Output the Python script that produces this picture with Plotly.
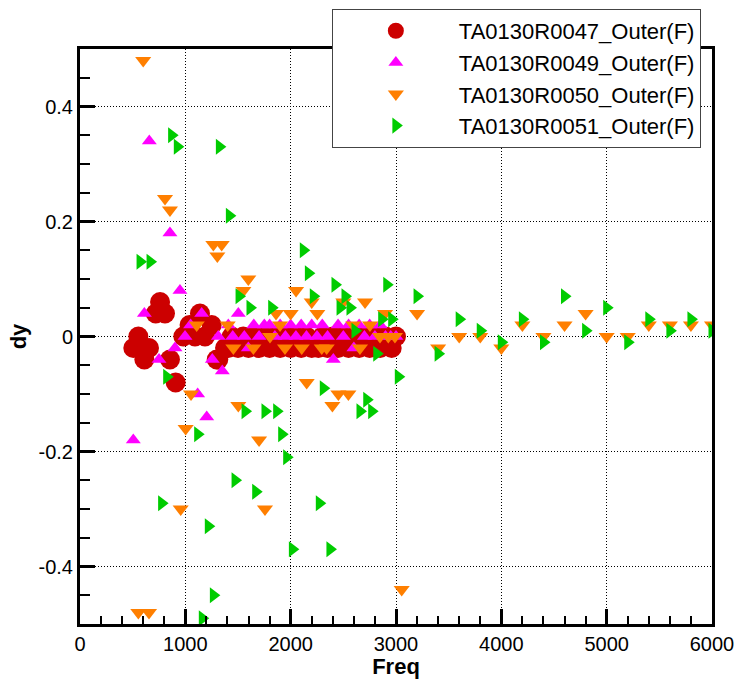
import plotly.graph_objects as go

# ---- data ----
names = ["TA0130R0047_Outer(F)", "TA0130R0049_Outer(F)",
         "TA0130R0050_Outer(F)", "TA0130R0051_Outer(F)"]

r47_f = [506, 554, 611, 655, 719, 760, 807, 854, 908, 981, 1040, 1092, 1139, 1187,
         1250, 1298, 1313, 1377, 1408, 1440, 1500, 1550, 1600, 1650, 1700, 1750,
         1800, 1850, 1900, 1950, 2000, 2050, 2100, 2150, 2200, 2263, 2300, 2350,
         2400, 2450, 2500, 2550, 2600, 2650, 2700, 2750, 2800, 2850, 2900, 2959, 3000]
r47_dy = [-0.02, 0.0, -0.04, -0.02, 0.04, 0.06, 0.04, -0.04, -0.08, 0.0, 0.02, 0.0, 0.04, 0.0,
          0.02, -0.04, -0.04, -0.02, -0.02, 0.0, -0.02, 0.0, -0.02, 0.0, -0.02, 0.0,
          -0.02, 0.0, -0.02, 0.0, -0.02, 0.0, -0.02, 0.0, -0.02, -0.02, 0.0, -0.02,
          0.0, -0.02, 0.0, -0.02, 0.0, -0.02, 0.0, -0.02, 0.0, -0.02, 0.0, -0.02, 0.0]

r49_f = [506, 611, 658, 750, 854, 902, 949, 997, 1050, 1117, 1155, 1203, 1256, 1313,
         1351, 1408, 1450, 1503, 1560, 1598, 1650, 1700, 1750, 1800, 1850, 1900, 1950,
         2000, 2050, 2100, 2150, 2200, 2250, 2300, 2350, 2405, 2450, 2500, 2550, 2600,
         2650, 2700, 2750, 2800, 2850, 2900, 2950, 3000]
r49_dy = [-0.18, 0.04, 0.34, -0.04, 0.18, -0.02, 0.08, 0.0, 0.02, -0.1, 0.04, -0.14, -0.04, 0.0,
          -0.06, 0.02, 0.0, 0.04, 0.0, -0.02, 0.02, 0.0, 0.02, 0.02, 0.0, 0.02, 0.0,
          0.02, 0.0, 0.02, 0.0, 0.02, 0.0, 0.02, 0.0, -0.04, 0.02, 0.0, 0.02, -0.02,
          0.02, 0.0, 0.02, 0.0, 0.02, 0.0, 0.0, 0.0]

r50_f = [554, 600, 655, 807, 854, 956, 1003, 1054, 1108, 1266, 1304, 1345, 1402, 1456,
         1503, 1551, 1598, 1646, 1700, 1756, 1804, 1861, 1899, 1946, 2000, 2051, 2105,
         2152, 2200, 2253, 2295, 2342, 2396, 2453, 2500, 2548, 2595, 2658, 2706, 2753,
         2848, 2896, 2927, 2990, 3054, 3200, 3400, 3600, 3800, 4000, 4200, 4400, 4600,
         4800, 5000, 5200, 5400, 5600, 5800, 6000]
r50_dy = [-0.48, 0.48, -0.48, 0.24, 0.22, -0.3, -0.16, -0.1, 0.02, 0.16, 0.14, 0.16, 0.02, -0.02,
          -0.12, 0.08, 0.1, -0.02, -0.18, -0.3, 0.0, 0.04, 0.02, -0.02, 0.04, 0.08, -0.02,
          -0.08, 0.06, 0.04, -0.02, -0.02, -0.12, -0.1, 0.06, -0.1, 0.02, -0.02, 0.06, 0.02,
          0.0, 0.04, 0.0, 0.0, -0.44, 0.04, -0.02, 0.0, 0.0, -0.02, 0.02, 0.0, 0.02,
          0.04, 0.0, 0.0, 0.02, 0.02, 0.02, 0.02]

r51_f = [570, 665, 775, 823, 870, 924, 1117, 1161, 1218, 1266, 1323, 1418, 1472, 1510,
         1567, 1614, 1668, 1756, 1820, 1867, 1915, 1962, 2016, 2120, 2168, 2215, 2272,
         2310, 2373, 2421, 2469, 2516, 2563, 2611, 2658, 2722, 2769, 2817, 2864, 2912,
         2959, 3022, 3200, 3400, 3600, 3800, 4000, 4200, 4400, 4600, 4800, 5000, 5200,
         5400, 5600, 5800, 6000]
r51_dy = [0.13, 0.13, -0.29, -0.07, 0.35, 0.33, -0.17, -0.49, -0.33, -0.45, 0.33, 0.21, -0.25, 0.07,
          -0.13, 0.05, -0.27, -0.13, 0.05, -0.13, -0.17, -0.21, -0.37, 0.15, 0.11, 0.07, -0.29,
          -0.09, -0.37, 0.09, 0.05, 0.07, 0.05, 0.01, -0.13, -0.11, -0.13, -0.03, 0.03, 0.09,
          0.03, -0.07, 0.07, -0.03, 0.03, 0.01, -0.01, 0.03, -0.01, 0.07, 0.01, 0.05, -0.01,
          0.03, 0.01, 0.03, 0.01]

x_ticks = [0, 1000, 2000, 3000, 4000, 5000, 6000]
y_ticks = [-0.4, -0.2, 0, 0.2, 0.4]
y_tick_text = ["-0.4", "-0.2", "0", "0.2", "0.4"]

FONT = "Liberation Sans, Arial, sans-serif"

fig = go.Figure()
series = [
    (r47_f, r47_dy, "circle", "#CC0000", 20),
    (r49_f, r49_dy, "triangle-up", "#FF00FF", 13),
    (r50_f, r50_dy, "triangle-down", "#FF7F00", 14),
    (r51_f, r51_dy, "triangle-right", "#00CC00", 14),
]
for (xs, ys, sym, col, sz), nm in zip(series, names):
    fig.add_trace(go.Scatter(
        x=xs, y=ys, mode="markers", name=nm,
        marker=dict(symbol=sym, color=col, size=sz, line=dict(width=0)),
    ))

axis_common = dict(
    showline=True, linecolor="black", linewidth=3, mirror=True,
    ticks="inside", ticklen=15, tickwidth=3, tickcolor="black",
    showgrid=True, gridcolor="black", gridwidth=1, griddash="1px,2px",
    zeroline=False,
    tickfont=dict(family=FONT, size=20, color="black"),
)

fig.update_xaxes(
    range=[0, 6000], tickvals=x_ticks, automargin=True,
    title=dict(text="<b>Freq</b>", font=dict(family=FONT, size=22, color="black"), standoff=2),
    minor=dict(dtick=200, ticks="inside", ticklen=8, tickwidth=1.5, tickcolor="black", showgrid=False),
    **axis_common,
)
fig.update_yaxes(
    range=[-0.5, 0.5], tickvals=y_ticks, ticktext=y_tick_text, automargin=False,
    title=dict(text="<b>dy</b>", font=dict(family=FONT, size=22, color="black"), standoff=6),
    minor=dict(dtick=0.05, ticks="inside", ticklen=10, tickwidth=1.5, tickcolor="black", showgrid=False),
    **axis_common,
)

fig.update_layout(
    width=737, height=679,
    margin=dict(l=80, r=25, t=49, b=55, autoexpand=False),
    paper_bgcolor="white", plot_bgcolor="white",
    font=dict(family=FONT, color="black"),
    legend=dict(
        x=0.3985, y=1.0696, xanchor="left", yanchor="top",
        bgcolor="white", bordercolor="#444444", borderwidth=1,
        font=dict(family=FONT, size=22, color="black"),
        itemwidth=116, tracegroupgap=0,
    ),
    showlegend=True,
)

fig.write_html("out.html")
